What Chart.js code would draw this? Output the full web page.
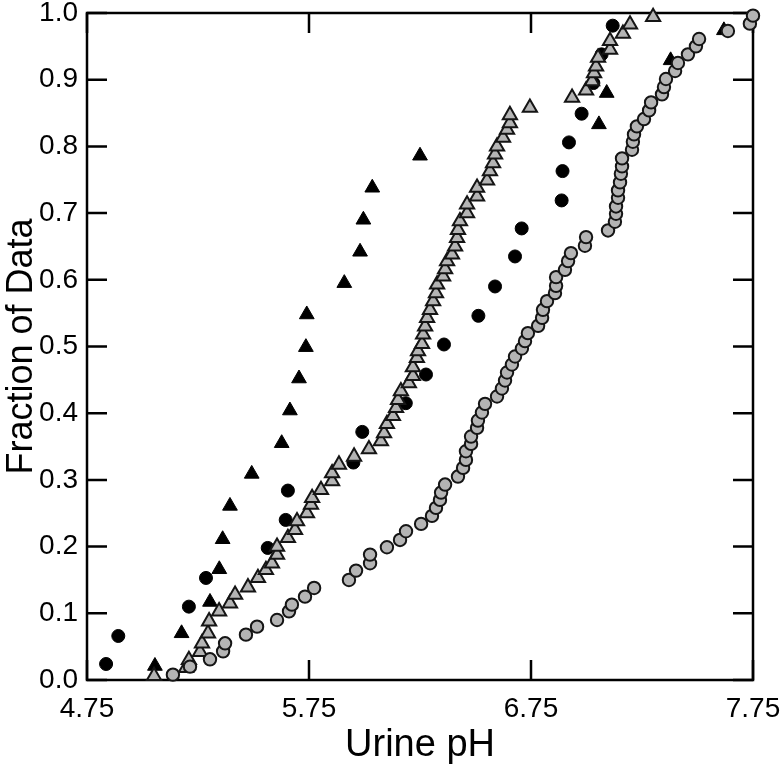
<!DOCTYPE html>
<html>
<head>
<meta charset="utf-8">
<script src="https://cdn.jsdelivr.net/npm/chart.js@4.4.1/dist/chart.umd.min.js"></script>
<style>
  body { margin: 0; background: #fff; }
  #wrap { width: 780px; height: 770px; }
</style>
</head>
<body>
<div id="wrap"><canvas id="phChart" width="780" height="770"></canvas></div>
<script>
// tick labels
var xTicks = [4.75, 5.75, 6.75, 7.75];
var yTicks = [0, 0.1, 0.2, 0.3, 0.4, 0.5, 0.6, 0.7, 0.8, 0.9, 1.0];

// black triangles
var blackTriPH = [5.056, 5.176, 5.304, 5.346, 5.361, 5.394, 5.492, 5.627, 5.664, 5.705, 5.736,
    5.740, 5.909, 5.980, 5.995, 6.035, 6.250, 7.056, 7.091, 7.379, 7.619];
var blackTriFrac = [0.021, 0.070, 0.117, 0.166, 0.211, 0.261, 0.309, 0.355, 0.404, 0.452, 0.499,
    0.548, 0.595, 0.642, 0.690, 0.738, 0.786, 0.833, 0.880, 0.929, 0.974];

// black circles
var blackCirPH = [4.836, 4.891, 5.209, 5.286, 5.564, 5.645, 5.655, 5.950, 5.990, 6.186, 6.277, 6.358,
    6.513, 6.588, 6.678, 6.708, 6.888, 6.892, 6.921, 6.978, 7.031, 7.068, 7.118];
var blackCirFrac = [0.024, 0.066, 0.110, 0.153, 0.198, 0.240, 0.284, 0.326, 0.372, 0.415, 0.458, 0.503,
    0.546, 0.590, 0.635, 0.677, 0.719, 0.763, 0.806, 0.849, 0.895, 0.938, 0.981];

// gray triangles
var grayTriPH = [5.052, 5.196, 5.209, 5.259, 5.268, 5.295, 5.300, 5.345, 5.394, 5.417, 5.475, 5.520,
    5.556, 5.583, 5.606, 5.606, 5.655, 5.687, 5.696, 5.741, 5.759, 5.764, 5.804, 5.854, 5.854, 5.885,
    5.953, 6.020, 6.074, 6.088, 6.101, 6.128, 6.142, 6.151, 6.164, 6.200, 6.218, 6.218, 6.236, 6.241,
    6.259, 6.264, 6.273, 6.282, 6.295, 6.309, 6.322, 6.327, 6.354, 6.363, 6.372, 6.394, 6.408, 6.417,
    6.421, 6.430, 6.462, 6.462, 6.507, 6.507, 6.552, 6.565, 6.579, 6.588, 6.597, 6.624, 6.642, 6.655,
    6.655, 6.745, 6.935, 6.998, 7.025, 7.034, 7.043, 7.052, 7.106, 7.106, 7.164, 7.196, 7.300];
var grayTriFrac = [0.006, 0.018, 0.030, 0.042, 0.055, 0.070, 0.088, 0.103, 0.115, 0.128, 0.139, 0.153,
    0.165, 0.175, 0.188, 0.200, 0.213, 0.225, 0.238, 0.250, 0.263, 0.273, 0.285, 0.298, 0.310, 0.323,
    0.335, 0.346, 0.358, 0.370, 0.384, 0.396, 0.408, 0.420, 0.433, 0.445, 0.456, 0.469, 0.483, 0.493,
    0.504, 0.518, 0.530, 0.543, 0.555, 0.568, 0.580, 0.593, 0.605, 0.616, 0.628, 0.638, 0.650, 0.663,
    0.675, 0.688, 0.700, 0.713, 0.725, 0.738, 0.749, 0.763, 0.775, 0.788, 0.800, 0.813, 0.825, 0.835,
    0.847, 0.858, 0.873, 0.884, 0.898, 0.910, 0.920, 0.933, 0.945, 0.958, 0.969, 0.983, 0.994];

// gray circles
var grayCirPH = [5.137, 5.214, 5.304, 5.363, 5.372, 5.466, 5.516, 5.606, 5.660, 5.673, 5.732, 5.773,
    5.930, 5.962, 6.025, 6.025, 6.101, 6.160, 6.187, 6.255, 6.304, 6.322, 6.340, 6.345, 6.363, 6.421,
    6.444, 6.457, 6.457, 6.480, 6.480, 6.507, 6.511, 6.529, 6.543, 6.597, 6.619, 6.633, 6.642, 6.664,
    6.678, 6.709, 6.723, 6.736, 6.782, 6.800, 6.804, 6.822, 6.858, 6.863, 6.863, 6.903, 6.917, 6.930,
    6.993, 6.998, 7.097, 7.128, 7.133, 7.133, 7.142, 7.142, 7.151, 7.155, 7.160, 7.160, 7.205, 7.209,
    7.214, 7.227, 7.259, 7.282, 7.291, 7.340, 7.349, 7.358, 7.399, 7.412, 7.457, 7.493, 7.507, 7.637,
    7.736, 7.750];
var grayCirFrac = [0.008, 0.020, 0.031, 0.043, 0.055, 0.068, 0.080, 0.090, 0.103, 0.113, 0.125, 0.138,
    0.150, 0.164, 0.175, 0.188, 0.199, 0.210, 0.223, 0.234, 0.246, 0.258, 0.270, 0.281, 0.293, 0.305,
    0.318, 0.330, 0.343, 0.354, 0.365, 0.378, 0.389, 0.401, 0.414, 0.425, 0.437, 0.449, 0.461, 0.473,
    0.485, 0.497, 0.508, 0.520, 0.531, 0.543, 0.555, 0.568, 0.580, 0.591, 0.604, 0.615, 0.628, 0.640,
    0.651, 0.664, 0.674, 0.687, 0.699, 0.710, 0.723, 0.734, 0.746, 0.759, 0.770, 0.782, 0.795, 0.807,
    0.818, 0.830, 0.841, 0.854, 0.866, 0.878, 0.889, 0.901, 0.913, 0.925, 0.938, 0.950, 0.961, 0.973,
    0.984, 0.996];

function toPoints(xs, ys) {
    var pts = [];
    for (var i = 0; i < xs.length; i++) pts.push({ x: xs[i], y: ys[i] });
    return pts;
}

var FONT = "'Liberation Sans', Arial, sans-serif";
var GRAY = '#b4b4b4';
var EDGE = '#151515';

// frame with inward ticks on all four sides
var frameTicks = {
    id: 'frameTicks',
    beforeDatasetsDraw: function(chart) {
        var ctx = chart.ctx, a = chart.chartArea;
        var xs = chart.scales.x, ys = chart.scales.y;
        var len = 20;
        ctx.save();
        ctx.strokeStyle = '#000';
        ctx.lineWidth = 2.5;
        ctx.strokeRect(a.left, a.top, a.right - a.left, a.bottom - a.top);
        ctx.beginPath();
        yTicks.forEach(function(v) {
            var p = ys.getPixelForValue(v);
            ctx.moveTo(a.left, p); ctx.lineTo(a.left + len, p);
            ctx.moveTo(a.right, p); ctx.lineTo(a.right - len, p);
        });
        xTicks.forEach(function(v) {
            var p = xs.getPixelForValue(v);
            ctx.moveTo(p, a.bottom); ctx.lineTo(p, a.bottom - len);
            ctx.moveTo(p, a.top); ctx.lineTo(p, a.top + len);
        });
        ctx.stroke();
        ctx.restore();
    }
};

// keep the plot box where the reference has it: no extra room for end labels
function noPad(scale) {
    scale.paddingTop = 0;
    scale.paddingBottom = 0;
    scale.paddingLeft = 0;
    scale.paddingRight = 0;
}

var ctx = document.getElementById('phChart').getContext('2d');
var chart = new Chart(ctx, {
    type: 'scatter',
    data: {
        datasets: [{
                label: 'gray circles',
                data: toPoints(grayCirPH, grayCirFrac),
                pointStyle: 'circle',
                pointRadius: 6.2,
                backgroundColor: GRAY,
                borderColor: EDGE,
                borderWidth: 2,
                order: 1,
                clip: false
            },
            {
                label: 'gray triangles',
                data: toPoints(grayTriPH, grayTriFrac),
                pointStyle: 'triangle',
                pointRadius: 8.2,
                backgroundColor: GRAY,
                borderColor: EDGE,
                borderWidth: 2,
                order: 2,
                clip: false
            },
            {
                label: 'black circles',
                data: toPoints(blackCirPH, blackCirFrac),
                pointStyle: 'circle',
                pointRadius: 6.5,
                backgroundColor: '#000',
                borderColor: '#000',
                borderWidth: 1,
                order: 3,
                clip: false
            },
            {
                label: 'black triangles',
                data: toPoints(blackTriPH, blackTriFrac),
                pointStyle: 'triangle',
                pointRadius: 8.5,
                backgroundColor: '#000',
                borderColor: '#000',
                borderWidth: 1,
                order: 4,
                clip: false
            }
        ]
    },
    options: {
        responsive: false,
        animation: false,
        events: [],
        layout: { padding: { top: 13, right: 27, left: 0, bottom: 0 } },
        plugins: {
            legend: { display: false },
            tooltip: { enabled: false }
        },
        scales: {
            x: {
                type: 'linear',
                min: 4.75,
                max: 7.75,
                afterBuildTicks: function(scale) {
                    scale.ticks = xTicks.map(function(v) { return { value: v }; });
                },
                afterFit: function(scale) { scale.height = 90; noPad(scale); },
                grid: { display: false, drawTicks: false },
                border: { display: false },
                ticks: {
                    color: '#000',
                    padding: 12,
                    maxRotation: 0,
                    autoSkip: false,
                    font: { family: FONT, size: 28 },
                    callback: function(v) { return Number(v).toFixed(2); }
                },
                title: {
                    display: true,
                    text: 'Urine pH',
                    color: '#000',
                    font: { family: FONT, size: 38 },
                    padding: { top: 0, bottom: 2 }
                }
            },
            y: {
                type: 'linear',
                min: 0,
                max: 1,
                afterBuildTicks: function(scale) {
                    scale.ticks = yTicks.map(function(v) { return { value: v }; });
                },
                afterFit: function(scale) { scale.width = 87; noPad(scale); },
                grid: { display: false, drawTicks: false },
                border: { display: false },
                ticks: {
                    color: '#000',
                    padding: 9,
                    autoSkip: false,
                    font: { family: FONT, size: 28 },
                    callback: function(v) { return Number(v).toFixed(1); }
                },
                title: {
                    display: true,
                    text: 'Fraction of Data',
                    color: '#000',
                    font: { family: FONT, size: 36 },
                    padding: { top: 0, bottom: 0 }
                }
            }
        }
    },
    plugins: [frameTicks]
});
</script>
</body>
</html>
